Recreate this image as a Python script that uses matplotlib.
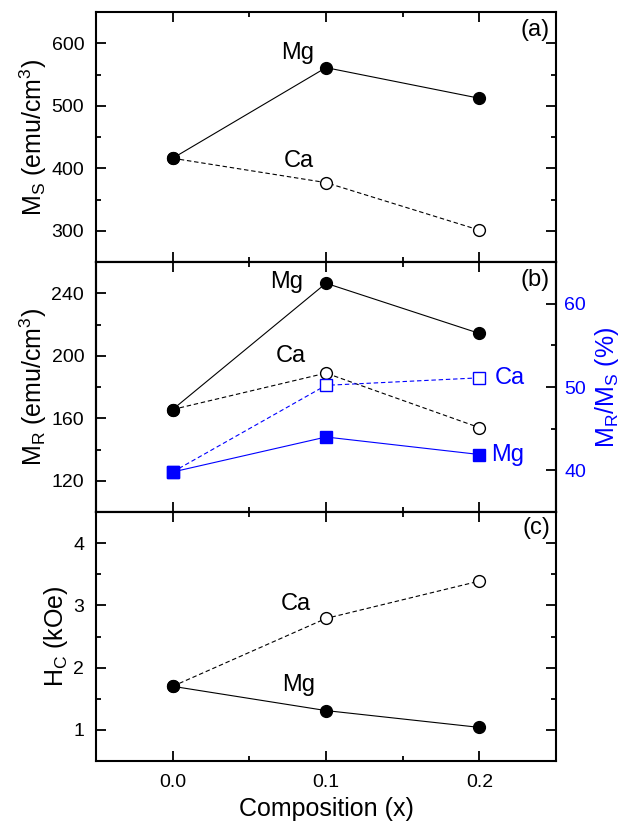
import matplotlib
matplotlib.use("Agg")
import matplotlib.pyplot as plt
from matplotlib.ticker import MultipleLocator

plt.rcParams['font.family'] = ['Liberation Sans', 'DejaVu Sans']
plt.rcParams['mathtext.fontset'] = 'custom'
plt.rcParams['mathtext.rm'] = 'Liberation Sans'
plt.rcParams['mathtext.it'] = 'Liberation Sans'

x = [0.0, 0.1, 0.2]
ms_mg = [416, 561, 512]
ms_ca = [416, 377, 301]
mr_mg = [165.6, 246.4, 214.3]
mr_ca = [165.6, 188.9, 154.0]
ratio_mg = [39.8, 44.0, 41.9]
ratio_ca = [39.8, 50.2, 51.1]
hc_mg = [1.70, 1.31, 1.04]
hc_ca = [1.70, 2.79, 3.39]

xticks = [0.0, 0.1, 0.2]
xticklabels = ['0.0', '0.1', '0.2']

fig = plt.figure(figsize=(6.29, 8.25), dpi=100)
L, W = 96/629, 460/629
def ax_at(top, bot):
    return fig.add_axes([L, 1-bot/825, W, (bot-top)/825])

axa = ax_at(12, 262)
axb = ax_at(262, 512)
axc = ax_at(512, 761)

BLUE = (0, 0, 1)
ms = 8.5
lw = 0.8
TS = 14
LS = 18
AS = 17

def style(ax, ylim, major, minor, right=True):
    ax.set_xlim(-0.05, 0.25)
    ax.set_ylim(*ylim)
    ax.xaxis.set_major_locator(MultipleLocator(0.1))
    ax.xaxis.set_minor_locator(MultipleLocator(0.05))
    ax.yaxis.set_major_locator(MultipleLocator(major))
    ax.yaxis.set_minor_locator(MultipleLocator(minor))
    ax.tick_params(which='both', direction='in', top=True, right=right, labelsize=TS, width=1.3)
    ax.tick_params(which='major', length=7)
    ax.tick_params(which='minor', length=3.5)
    ax.tick_params(axis='x', pad=9.5)
    ax.tick_params(axis='y', pad=8.5)
    for s in ax.spines.values():
        s.set_linewidth(1.5)

# Panel (a)
axa.plot(x, ms_ca, '--', color='black', lw=lw, marker='o', ms=ms, mfc='white', mec='black', dashes=(4, 2.5), zorder=3)
axa.plot(x, ms_mg, '-', color='black', lw=lw, marker='o', ms=ms, mfc='black', mec='black', zorder=4)
style(axa, (250, 650), 100, 50)
axa.set_xticklabels([])
axa.set_ylabel('M$_\\mathregular{S}$ (emu/cm$^\\mathregular{3}$)', fontsize=LS, labelpad=2)
axa.text(0.092, 585, 'Mg', fontsize=AS, ha='right', va='center')
axa.text(0.092, 412, 'Ca', fontsize=AS, ha='right', va='center')
axa.text(0.987, 0.928, '(a)', transform=axa.transAxes, fontsize=AS, ha='right', va='center')

# Panel (b)
axb.plot(x, mr_ca, '--', color='black', lw=lw, marker='o', ms=ms, mfc='white', mec='black', dashes=(4, 2.5), zorder=3)
axb.plot(x, mr_mg, '-', color='black', lw=lw, marker='o', ms=ms, mfc='black', mec='black', zorder=4)
style(axb, (100, 260), 40, 20, right=False)
axb.set_xticklabels([])
axb.set_ylabel('M$_\\mathregular{R}$ (emu/cm$^\\mathregular{3}$)', fontsize=LS, labelpad=2)
axb.text(0.085, 247, 'Mg', fontsize=AS, ha='right', va='center')
axb.text(0.087, 200, 'Ca', fontsize=AS, ha='right', va='center')
axb.text(0.987, 0.928, '(b)', transform=axb.transAxes, fontsize=AS, ha='right', va='center')

axr = axb.twinx()
axr.patch.set_visible(False)
axr.plot(x, ratio_ca, '--', color=BLUE, lw=lw, marker='s', ms=8, mfc='white', mec=BLUE, dashes=(4, 2.5), zorder=3)
axr.plot(x, ratio_mg, '-', color=BLUE, lw=lw, marker='s', ms=8, mfc=BLUE, mec=BLUE, zorder=4)
axr.set_ylim(35, 65)
axr.yaxis.set_major_locator(MultipleLocator(10))
axr.yaxis.set_minor_locator(MultipleLocator(5))
axr.tick_params(which='both', direction='in', labelsize=TS, width=1.3, labelcolor=BLUE, pad=6)
axr.tick_params(which='major', length=7)
axr.tick_params(which='minor', length=3.5)
for s in axr.spines.values():
    s.set_linewidth(1.5)
axr.set_ylabel('M$_\\mathregular{R}$/M$_\\mathregular{S}$ (%)', fontsize=LS, color=BLUE, labelpad=5)
axr.text(0.21, 51.1, 'Ca', fontsize=AS, ha='left', va='center', color=BLUE)
axr.text(0.208, 41.8, 'Mg', fontsize=AS, ha='left', va='center', color=BLUE)

# Panel (c)
axc.plot(x, hc_ca, '--', color='black', lw=lw, marker='o', ms=ms, mfc='white', mec='black', dashes=(4, 2.5), zorder=3)
axc.plot(x, hc_mg, '-', color='black', lw=lw, marker='o', ms=ms, mfc='black', mec='black', zorder=4)
style(axc, (0.5, 4.5), 1, 0.5)
axc.set_xticks(xticks)
axc.set_xticklabels(xticklabels)
axc.set_ylabel('H$_\\mathregular{C}$ (kOe)', fontsize=LS, labelpad=2)
axc.set_xlabel('Composition (x)', fontsize=LS, labelpad=4)
axc.text(0.090, 3.03, 'Ca', fontsize=AS, ha='right', va='center')
axc.text(0.093, 1.72, 'Mg', fontsize=AS, ha='right', va='center')
axc.text(0.987, 0.936, '(c)', transform=axc.transAxes, fontsize=AS, ha='right', va='center')

fig.savefig('out.png', dpi=100)
